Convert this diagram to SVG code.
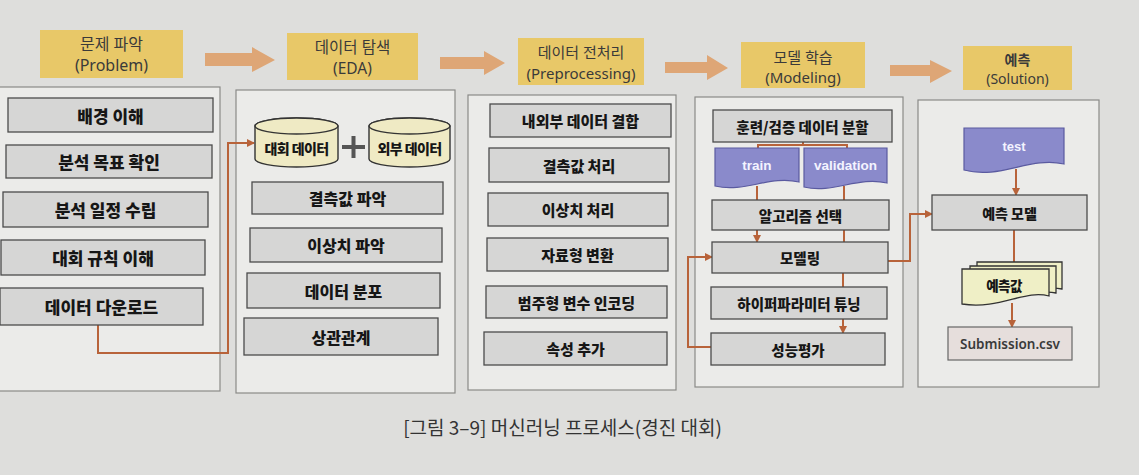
<svg xmlns="http://www.w3.org/2000/svg" width="1139" height="475" viewBox="0 0 1139 475">
<defs>
<style>
.panel{fill:#ebebe9;stroke:#8a8a88;stroke-width:1.2}
.hdr{fill:#e8c868}
.harrow{fill:#dea676}
.box{fill:#d6d6d5;stroke:#4c4c4c;stroke-width:1.3}
.ht{font-family:"Noto Sans","Noto Sans CJK KR",sans-serif;fill:#3a3a3a;text-anchor:middle;dominant-baseline:central}
.bt{font-family:"Noto Sans CJK KR","Noto Sans",sans-serif;font-weight:900;fill:#161616;text-anchor:middle;dominant-baseline:central}
.cyl{fill:#efeac4;stroke:#333;stroke-width:1.4}
.doc{fill:#8a8acb;stroke:#5a5aa0;stroke-width:1.2}
.wt{font-family:"Liberation Sans",Arial,sans-serif;font-weight:bold;fill:#f4f4ff;text-anchor:middle;dominant-baseline:central}
.ydoc{fill:#efefc6;stroke:#333;stroke-width:1.3}
.con{fill:none;stroke:#b8633a;stroke-width:2}
.arr{marker-end:url(#ah)}
</style>
<marker id="ah" markerWidth="8" markerHeight="8" refX="7" refY="4" orient="auto" markerUnits="userSpaceOnUse">
<path d="M0,0 L8,4 L0,8 Z" fill="#b8633a"/>
</marker>
</defs>
<rect x="0" y="0" width="1139" height="475" fill="#dededc"/>

<g id="headers">
<g id="h-problem"><rect class="hdr" x="40" y="30" width="143" height="48"/>
<text class="ht" x="111.5" y="44" font-size="16">문제 파악</text><text class="ht" x="111.5" y="65" font-size="16">(Problem)</text></g>
<g id="h-eda"><rect class="hdr" x="287" y="33" width="131" height="47"/>
<text class="ht" x="352.5" y="47" font-size="15.5">데이터 탐색</text><text class="ht" x="352.5" y="68" font-size="15.5">(EDA)</text></g>
<g id="h-pre"><rect class="hdr" x="518" y="38" width="126" height="47"/>
<text class="ht" x="581" y="52" font-size="15">데이터 전처리</text><text class="ht" x="581" y="73" font-size="15">(Preprocessing)</text></g>
<g id="h-model"><rect class="hdr" x="741" y="42" width="124" height="46"/>
<text class="ht" x="803" y="57" font-size="15">모델 학습</text><text class="ht" x="803" y="77" font-size="15">(Modeling)</text></g>
<g id="h-sol"><rect class="hdr" x="963" y="46" width="109" height="44"/>
<text class="ht" x="1017.5" y="59" font-size="14" font-weight="bold">예측</text><text class="ht" x="1017.5" y="78" font-size="14">(Solution)</text></g>
</g>

<g id="stage-arrows">
<polygon class="harrow" points="205,53 252,53 252,47 275,60 252,72 252,66 205,66"/>
<polygon class="harrow" points="440,57 484,57 484,51 505,63 484,75 484,69 440,69"/>
<polygon class="harrow" points="665,62 707,62 707,55 728,68 707,80 707,73 665,73"/>
<polygon class="harrow" points="890,65 930,65 930,60 952,71 930,83 930,76 890,76"/>
</g>

<g id="panels">
<rect class="panel" x="-2" y="87" width="222" height="304"/>
<rect class="panel" x="236" y="90" width="219" height="303"/>
<rect class="panel" x="468" y="95" width="208" height="295"/>
<rect class="panel" x="695" y="97" width="208" height="290"/>
<rect class="panel" x="918" y="100" width="181" height="287"/>
</g>

<g id="connectors">
<path class="con arr" d="M98,325 V353 H228 V143 H254"/>
<path class="con" d="M803,142 V145 M758,148 V145 H847 V148"/>
<path class="con" d="M757,186 V200 M844,186 V200"/>
<path class="con arr" d="M757,230 V242"/>
<path class="con" d="M844,230 V242"/>
<path class="con" d="M843,273 V287"/>
<path class="con arr" d="M843,319 V333"/>
<path class="con arr" d="M711,347 H688 V257 H712"/>
<path class="con arr" d="M888,261 H910 V214 H932"/>
<path class="con arr" d="M1016,169 V195"/>
<path class="con" d="M1014,230 V263"/>
<path class="con arr" d="M1012,303 V327"/>
</g>

<g id="n-bg"><rect class="box" x="8" y="98" width="205" height="34"/><text class="bt" x="110.5" y="115" font-size="17">배경 이해</text></g>
<g id="n-goal"><rect class="box" x="6" y="145" width="206" height="33"/><text class="bt" x="109" y="161.5" font-size="17">분석 목표 확인</text></g>
<g id="n-plan"><rect class="box" x="3" y="192" width="205" height="35"/><text class="bt" x="105.5" y="209.5" font-size="17">분석 일정 수립</text></g>
<g id="n-rule"><rect class="box" x="1" y="240" width="204" height="35"/><text class="bt" x="103" y="257.5" font-size="17">대회 규칙 이해</text></g>
<g id="n-down"><rect class="box" x="0" y="288" width="203" height="37"/><text class="bt" x="101.5" y="306.5" font-size="17">데이터 다운로드</text></g>

<g id="n-comp"><path class="cyl" d="M255,126 A41.5,8 0 0 1 338,126 V159 A41.5,8 0 0 1 255,159 Z"/><ellipse class="cyl" cx="296.5" cy="126" rx="41.5" ry="8"/><text class="bt" x="296.5" y="148" font-size="14" letter-spacing="-0.6">대회 데이터</text></g>
<g id="n-plus"><path d="M342,147 H365 M353.5,136 V158" stroke="#555" stroke-width="4" fill="none"/></g>
<g id="n-ext"><path class="cyl" d="M369,126 A40.5,8 0 0 1 450,126 V159 A40.5,8 0 0 1 369,159 Z"/><ellipse class="cyl" cx="409.5" cy="126" rx="40.5" ry="8"/><text class="bt" x="409.5" y="148" font-size="14" letter-spacing="-0.6">외부 데이터</text></g>
<g id="n-miss"><rect class="box" x="252" y="182" width="191" height="32"/><text class="bt" x="347.5" y="198" font-size="16">결측값 파악</text></g>
<g id="n-out"><rect class="box" x="250" y="228" width="192" height="34"/><text class="bt" x="346" y="245" font-size="16">이상치 파악</text></g>
<g id="n-dist"><rect class="box" x="247" y="273" width="193" height="35"/><text class="bt" x="343.5" y="290.5" font-size="16">데이터 분포</text></g>
<g id="n-corr"><rect class="box" x="244" y="318" width="194" height="37"/><text class="bt" x="341" y="336.5" font-size="16">상관관계</text></g>

<g id="n-join"><rect class="box" x="490" y="104" width="181" height="33"/><text class="bt" x="580.5" y="120.5" font-size="15">내외부 데이터 결합</text></g>
<g id="n-missp"><rect class="box" x="489" y="148" width="180" height="34"/><text class="bt" x="579" y="165" font-size="15">결측값 처리</text></g>
<g id="n-outp"><rect class="box" x="488" y="193" width="180" height="33"/><text class="bt" x="578" y="209.5" font-size="15">이상치 처리</text></g>
<g id="n-type"><rect class="box" x="487" y="238" width="181" height="33"/><text class="bt" x="577.5" y="254.5" font-size="15">자료형 변환</text></g>
<g id="n-enc"><rect class="box" x="486" y="286" width="181" height="32"/><text class="bt" x="576.5" y="302" font-size="15">범주형 변수 인코딩</text></g>
<g id="n-feat"><rect class="box" x="484" y="332" width="183" height="33"/><text class="bt" x="575.5" y="348.5" font-size="15">속성 추가</text></g>

<g id="n-split"><rect class="box" x="713" y="110" width="179" height="32"/><text class="bt" x="802.5" y="126" font-size="14.5">훈련/검증 데이터 분할</text></g>
<g id="n-train"><path class="doc" d="M715,148 H799 V182 C770,175 745,193 715,186 Z"/><text class="wt" x="757" y="165" font-size="13.5">train</text></g>
<g id="n-valid"><path class="doc" d="M804,148 H887 V183 C858,176 833,194 804,187 Z"/><text class="wt" x="845.5" y="165" font-size="13.5">validation</text></g>
<g id="n-algo"><rect class="box" x="712" y="200" width="177" height="30"/><text class="bt" x="800.5" y="215" font-size="14.5">알고리즘 선택</text></g>
<g id="n-modeling"><rect class="box" x="712" y="242" width="176" height="31"/><text class="bt" x="800" y="257.5" font-size="14.5">모델링</text></g>
<g id="n-hyper"><rect class="box" x="711" y="287" width="176" height="32"/><text class="bt" x="799" y="303" font-size="14.5">하이퍼파라미터 튜닝</text></g>
<g id="n-eval"><rect class="box" x="711" y="333" width="174" height="32"/><text class="bt" x="798" y="349" font-size="14.5">성능평가</text></g>

<g id="n-test"><path class="doc" d="M964,128 H1064 V164 C1030,156 1000,180 964,170 Z" fill="#7676bd"/><text class="wt" x="1014" y="146" font-size="13">test</text></g>
<g id="n-pred-model"><rect class="box" x="932" y="195" width="155" height="35"/><text class="bt" x="1009.5" y="212.5" font-size="14">예측 모델</text></g>
<g id="n-pred">
<path class="ydoc" d="M977,262 H1062 V289 C1045,285 1030,293 1015,291 V280 H977 Z"/>
<path class="ydoc" d="M970,266 H1056 V293 C1040,289 1025,297 1010,295 V284 H970 Z"/>
<path class="ydoc" d="M962,269 H1049 V296 C1025,289 1000,310 962,304 Z"/>
<text class="bt" x="1004" y="285" font-size="13.5" letter-spacing="-0.6">예측값</text></g>
<g id="n-sub"><rect x="948" y="327" width="124" height="33" fill="#e6dedc" stroke="#666" stroke-width="1.2"/><text x="1010" y="344" font-family="'Noto Sans','Open Sans',sans-serif" font-weight="600" font-size="13.5" fill="#3a3a3a" text-anchor="middle" dominant-baseline="central">Submission.csv</text></g>

<g id="caption"><text x="562.5" y="426" font-family="'Noto Sans CJK KR','Noto Sans',sans-serif" font-size="19" fill="#333" text-anchor="middle" dominant-baseline="central">[그림 3–9] 머신러닝 프로세스(경진 대회)</text></g>
</svg>
